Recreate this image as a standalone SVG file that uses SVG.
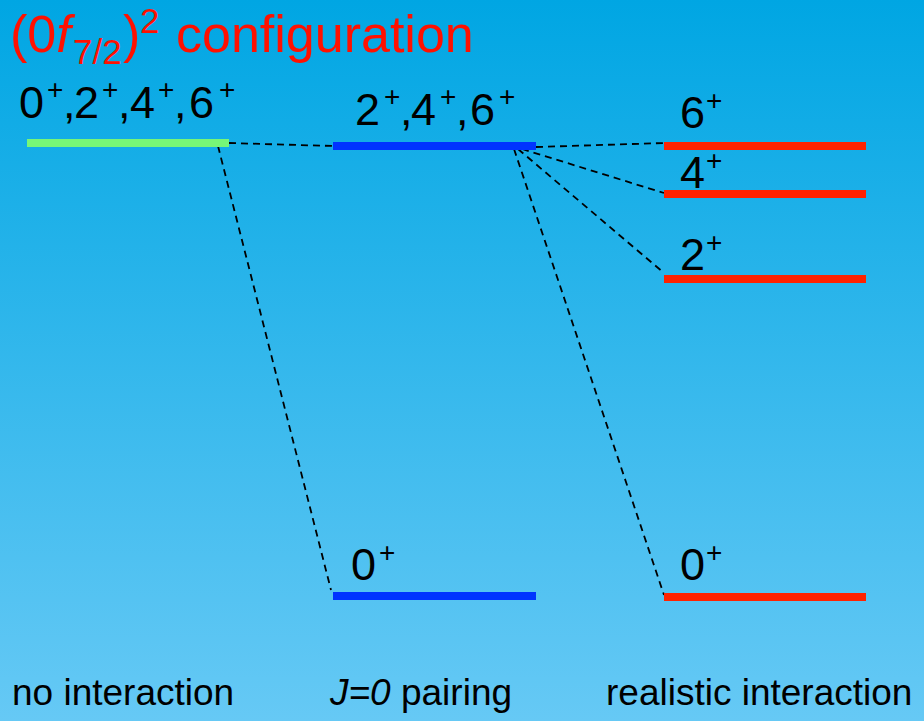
<svg xmlns="http://www.w3.org/2000/svg" width="924" height="721" viewBox="0 0 924 721">
<defs>
<linearGradient id="bg" x1="0" y1="0" x2="0" y2="1">
<stop offset="0" stop-color="#00a6e3"/>
<stop offset="1" stop-color="#66c9f5"/>
</linearGradient>
</defs>
<style>
text{font-family:"Liberation Sans",Arial,sans-serif;}
.lbl{font-size:45px;fill:#000;}
.sup{font-size:28px;}
.foot{font-size:37px;fill:#000;}
.title{font-size:52px;fill:#ff1100;}
.dash{stroke:#000;stroke-width:1.8;stroke-dasharray:7 5;fill:none;}
.green{fill:#77f777;}
.blue{fill:#0033ff;}
.red{fill:#ff2200;}
</style>
<rect width="924" height="721" fill="url(#bg)"/>
<text class="title" y="52"><tspan x="10">(0</tspan><tspan font-style="italic">f</tspan><tspan x="73" y="64" font-size="35">7/2</tspan><tspan x="123" y="52">)</tspan><tspan x="140" y="33" font-size="35">2</tspan><tspan x="176" y="52">configuration</tspan></text>
<g id="connectors">
<line class="dash" x1="229" y1="143" x2="333" y2="146"/>
<line class="dash" x1="218" y1="146" x2="331" y2="590"/>
<line class="dash" x1="536" y1="147" x2="664" y2="143"/>
<line class="dash" x1="522" y1="149" x2="664" y2="193"/>
<line class="dash" x1="518" y1="149" x2="664" y2="273"/>
<line class="dash" x1="514" y1="149" x2="664" y2="595"/>
</g>
<g id="level-none">
<rect class="green" x="27" y="139" width="202" height="8"/>
<text class="lbl" y="118"><tspan x="19">0</tspan><tspan class="sup" x="47" dy="-19">+</tspan><tspan x="63" dy="19">,</tspan><tspan x="74">2</tspan><tspan class="sup" x="102" dy="-19">+</tspan><tspan x="118" dy="19">,</tspan><tspan x="130">4</tspan><tspan class="sup" x="158" dy="-19">+</tspan><tspan x="174" dy="19">,</tspan><tspan x="189">6</tspan><tspan class="sup" x="219" dy="-19">+</tspan></text>
</g>
<g id="level-pair-high">
<rect class="blue" x="333" y="142" width="203" height="8"/>
<text class="lbl" y="125"><tspan x="355">2</tspan><tspan class="sup" x="384" dy="-19">+</tspan><tspan x="400" dy="19">,</tspan><tspan x="411">4</tspan><tspan class="sup" x="440" dy="-19">+</tspan><tspan x="456" dy="19">,</tspan><tspan x="470">6</tspan><tspan class="sup" x="499" dy="-19">+</tspan></text>
</g>
<g id="level-pair-0">
<rect class="blue" x="333" y="592" width="203" height="8"/>
<text class="lbl" y="580"><tspan x="351">0</tspan><tspan class="sup" x="379" dy="-18">+</tspan></text>
</g>
<g id="level-real-6">
<rect class="red" x="664" y="142" width="202" height="8"/>
<text class="lbl" y="128"><tspan x="680">6</tspan><tspan class="sup" x="706" dy="-18">+</tspan></text>
</g>
<g id="level-real-4">
<rect class="red" x="664" y="190" width="202" height="8"/>
<text class="lbl" y="188"><tspan x="680">4</tspan><tspan class="sup" x="706" dy="-18">+</tspan></text>
</g>
<g id="level-real-2">
<rect class="red" x="664" y="275" width="202" height="8"/>
<text class="lbl" y="270"><tspan x="680">2</tspan><tspan class="sup" x="706" dy="-18">+</tspan></text>
</g>
<g id="level-real-0">
<rect class="red" x="664" y="593" width="202" height="8"/>
<text class="lbl" y="580"><tspan x="680">0</tspan><tspan class="sup" x="706" dy="-18">+</tspan></text>
</g>
<g id="footer">
<text class="foot" x="12" y="705">no interaction</text>
<text class="foot" x="330" y="705"><tspan font-style="italic">J=0</tspan> pairing</text>
<text class="foot" x="606" y="705">realistic interaction</text>
</g>
</svg>
